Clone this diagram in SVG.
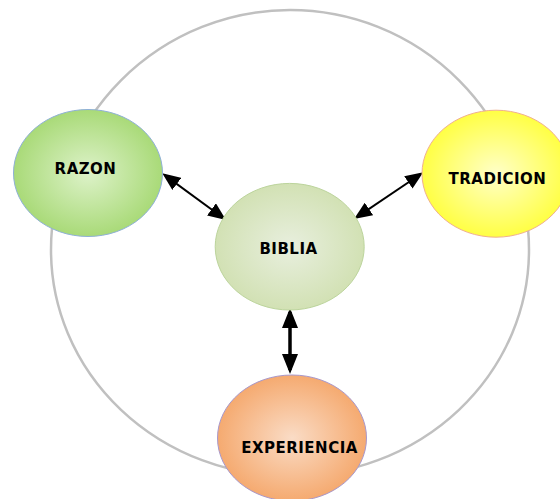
<svg xmlns="http://www.w3.org/2000/svg" width="560" height="499" viewBox="0 0 560 499">
<defs>
<radialGradient id="gR"><stop offset="0" stop-color="#ddf2c9"/><stop offset="1" stop-color="#a9da78"/></radialGradient>
<radialGradient id="gT"><stop offset="0" stop-color="#ffffc8"/><stop offset="1" stop-color="#ffff44"/></radialGradient>
<radialGradient id="gB"><stop offset="0" stop-color="#e8efde"/><stop offset="1" stop-color="#d2e1b4"/></radialGradient>
<radialGradient id="gE"><stop offset="0" stop-color="#fadcc6"/><stop offset="1" stop-color="#f5aa70"/></radialGradient>
<marker id="ah" viewBox="0 0 18 15" refX="15" refY="7.5" markerWidth="18" markerHeight="15" markerUnits="userSpaceOnUse" orient="auto-start-reverse"><path d="M0,0 L18,7.5 L0,15 Z" fill="#000"/></marker>
<marker id="ah2" viewBox="0 0 20 16" refX="16" refY="8" markerWidth="20" markerHeight="16" markerUnits="userSpaceOnUse" orient="auto-start-reverse"><path d="M0,0 L20,8 L0,16 Z" fill="#000"/></marker>
</defs>
<style>
text{font-family:"DejaVu Sans",Verdana,sans-serif;font-weight:bold;font-size:15px;fill:#000;text-anchor:middle;letter-spacing:0.5px}
.conn{stroke:#000;fill:none}
</style>
<path d="M51,250 A239,240 0 0 1 529,250 A239,226 0 0 1 51,250 Z" fill="none" stroke="#c0c0c0" stroke-width="2.5"/>
<g id="connectors">
<line class="conn" x1="164.7" y1="175.1" x2="223.6" y2="218.2" stroke-width="2" marker-start="url(#ah)" marker-end="url(#ah)"/>
<line class="conn" x1="420.8" y1="174" x2="356.5" y2="217.3" stroke-width="2" marker-start="url(#ah)" marker-end="url(#ah)"/>
<line class="conn" x1="290" y1="312" x2="290" y2="370" stroke-width="3.5" marker-start="url(#ah2)" marker-end="url(#ah2)"/>
</g>
<g id="razon"><ellipse cx="88" cy="173" rx="74.5" ry="63.5" fill="url(#gR)" stroke="#8fb0d8" stroke-width="1"/><text x="85.5" y="174">RAZON</text></g>
<g id="tradicion"><ellipse cx="496" cy="173.7" rx="74" ry="63.5" fill="url(#gT)" stroke="#f0b090" stroke-width="1"/><text x="497.5" y="183.5">TRADICION</text></g>
<g id="biblia"><ellipse cx="289.7" cy="246.7" rx="74.5" ry="63.3" fill="url(#gB)" stroke="#bcd49c" stroke-width="1"/><text x="288.5" y="254">BIBLIA</text></g>
<g id="experiencia"><ellipse cx="292" cy="438" rx="74.5" ry="63" fill="url(#gE)" stroke="#a898cc" stroke-width="1"/><text x="299.5" y="452.5">EXPERIENCIA</text></g>
</svg>
